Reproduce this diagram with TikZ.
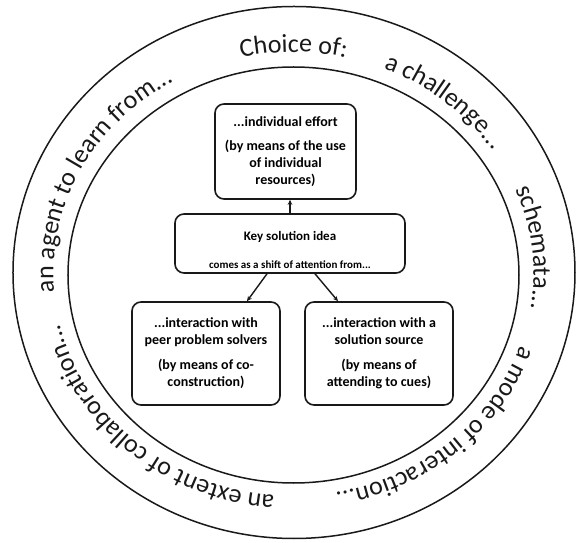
\documentclass[tikz,border=0pt]{standalone}
\usepackage{fontspec}
\setmainfont{Carlito}
\usetikzlibrary{arrows.meta,calc,decorations.text}
\newcommand\ringfont{\fontsize{26pt}{30pt}\selectfont}
\tikzset{
  ring/.style={draw=black!90, line width=1.5pt},
  boxnode/.style={draw=black!90, line width=1.6pt, rounded corners=9pt, align=center,
    font=\bfseries\fontsize{14pt}{17pt}\selectfont, inner sep=0pt},
  arr/.style={draw=black!90, line width=1.4pt, -{Stealth[length=5pt,width=4.5pt]}},
  ringtext/.style={decorate, decoration={text along path, text align=center,
    text color=black!90, text={|\ringfont|#1}}}
}
\begin{document}
\begin{tikzpicture}[x=1pt,y=1pt]
\useasboundingbox (-293,-270) rectangle (283,273);
% rings
\draw[ring] (1,0.5) ellipse [x radius=281pt, y radius=266pt];
\draw[ring] (0.5,-2) ellipse [x radius=225.5pt, y radius=208pt];
% ring texts (clockwise, tops outward)
\path[ringtext={Choice of:}] ($(0.5,-1)+(130:240 and 222)$) arc[start angle=130, end angle=50, x radius=240pt, y radius=222pt];
\path[ringtext={a challenge...}] ($(0.5,-1)+(95:240 and 222)$) arc[start angle=95, end angle=5, x radius=240pt, y radius=222pt];
\path[ringtext={schemata...}] ($(0.5,-1)+(50:240 and 222)$) arc[start angle=50, end angle=-37, x radius=240pt, y radius=222pt];
\path[ringtext={a mode of interaction...}] ($(0.5,-1)+(5:240 and 222)$) arc[start angle=5, end angle=-102, x radius=240pt, y radius=222pt];
\path[ringtext={an extent of collaboration...}] ($(0.5,-1)+(-75:240 and 222)$) arc[start angle=-75, end angle=-188, x radius=240pt, y radius=222pt];
\path[ringtext={an agent to learn from...}] ($(0.5,-1)+(210:240 and 222)$) arc[start angle=210, end angle=96, x radius=240pt, y radius=222pt];
% boxes
\node[boxnode, minimum width=141pt, minimum height=95pt] (top) at (-7.5,121.5)
  {...individual effort\\[7pt](by means of the use\\of individual\\resources)};
\node[boxnode, minimum width=230pt, minimum height=59pt] (key) at (-3,29.5) {};
\node[font=\bfseries\fontsize{13pt}{15pt}\selectfont, inner sep=0pt] (keyt) at ($(key.north)+(0,-24)$) {Key solution idea};
\node[font=\bfseries\fontsize{11pt}{13pt}\selectfont, inner sep=0pt] (keys) at ($(key.north)+(0,-51)$) {comes as a shift of attention from...};
\node[boxnode, minimum width=148pt, minimum height=103pt] (left) at (-87,-80.5)
  {...interaction with\\peer problem solvers\\[8pt](by means of co-\\construction)};
\node[boxnode, minimum width=148pt, minimum height=103pt] (right) at (86,-80.5)
  {...interaction with a\\solution source\\[8pt](by means of\\attending to cues)};
% arrows
\draw[arr] (key.north) -- (key.north |- top.south);
\draw[arr] ($(key.south)+(-23,0)$) -- ($(left.north)+(41,0)$);
\draw[arr] ($(key.south)+(25,0)$) -- ($(right.north)+(-41,0)$);
\end{tikzpicture}
\end{document}
